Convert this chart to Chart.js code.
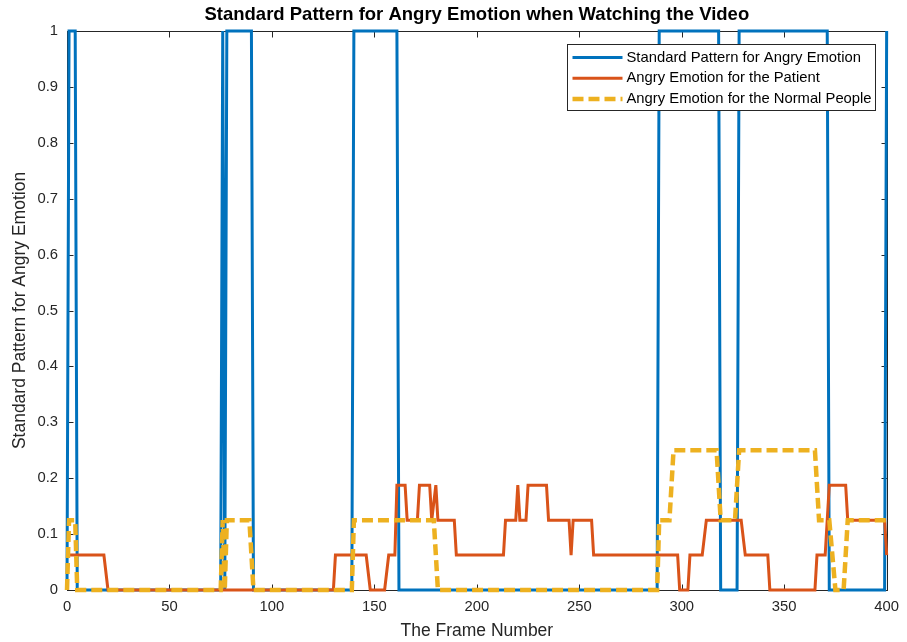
<!DOCTYPE html>
<html>
<head>
<meta charset="utf-8">
<title>Standard Pattern for Angry Emotion</title>
<script src="https://cdn.jsdelivr.net/npm/chart.js@4.4.1/dist/chart.umd.min.js"></script>
<style>
  html, body { margin: 0; padding: 0; background: #fff; }
  canvas { display: block; }
</style>
</head>
<body>
<canvas id="emotionChart" width="907" height="642"></canvas>
<script>
// Each curve is stored as its breakpoints (frame, value); straight lines join them.
const standardFrames = [0, 1, 4, 5, 75, 76, 77, 78, 90, 91, 139, 140, 161, 162, 288, 289, 318, 319, 327, 328, 371, 372, 399, 400];
const standardValues = [0, 1, 1, 0, 0, 1, 0, 1, 1, 0, 0, 1, 1, 0, 0, 1, 1, 0, 0, 1, 1, 0, 0, 1];

const patientFrames = [0, 18, 20, 130, 131, 146, 148, 155, 157, 160, 161, 165, 166, 171, 172, 177, 178, 180, 181, 189, 190,
  213, 214, 219, 220, 221, 224, 225, 234, 235, 245, 246, 247, 256, 257, 298, 299, 303, 304, 310, 312, 329, 331, 342, 343,
  365, 366, 370, 372, 380, 381, 399, 400];
const patientValues = [0.0625, 0.0625, 0, 0, 0.0625, 0.0625, 0, 0, 0.0625, 0.0625, 0.1875, 0.1875, 0.125, 0.125, 0.1875, 0.1875, 0.125, 0.1875, 0.125, 0.125, 0.0625,
  0.0625, 0.125, 0.125, 0.1875, 0.125, 0.125, 0.1875, 0.1875, 0.125, 0.125, 0.0625, 0.125, 0.125, 0.0625, 0.0625, 0, 0, 0.0625, 0.0625, 0.125, 0.125, 0.0625, 0.0625, 0,
  0, 0.0625, 0.0625, 0.1875, 0.1875, 0.125, 0.125, 0.0625];

const normalFrames = [0, 1, 4, 5, 75, 76, 77, 78, 89, 91, 139, 140, 179, 181, 288, 289, 294, 296, 317, 319, 326, 328, 365, 367, 372, 375, 379, 381, 400];
const normalValues = [0, 0.125, 0.125, 0, 0, 0.125, 0, 0.125, 0.125, 0, 0, 0.125, 0.125, 0, 0, 0.125, 0.125, 0.25, 0.25, 0.125, 0.125, 0.25, 0.25, 0.125, 0.125, 0, 0, 0.125, 0.125];

const seriesLabels = ['Standard Pattern for Angry Emotion', 'Angry Emotion for the Patient', 'Angry Emotion for the Normal People'];
const seriesColors = ['#0072BD', '#D95319', '#EDB120'];

const xTicks = [0, 50, 100, 150, 200, 250, 300, 350, 400];
const yTicks = [0, 0.1, 0.2, 0.3, 0.4, 0.5, 0.6, 0.7, 0.8, 0.9, 1];
const yTickLabels = ['0', '0.1', '0.2', '0.3', '0.4', '0.5', '0.6', '0.7', '0.8', '0.9', '1'];

const FONT = '"Liberation Sans", Arial, sans-serif';
const AXIS_COLOR = '#262626';
const TICK_LEN = 6;

function toPoints(frames, values) {
  return frames.map((f, i) => ({ x: f, y: values[i] }));
}

// box around the plot with inward ticks on all four sides
const axesBox = {
  id: 'axesBox',
  beforeDatasetsDraw(chart) {
    const { ctx, chartArea: a, scales: { x, y } } = chart;
    ctx.save();
    ctx.strokeStyle = AXIS_COLOR;
    ctx.lineWidth = 1;
    const l = Math.round(a.left) + 0.5, r = Math.round(a.right) + 0.5;
    const t = Math.round(a.top) + 0.5, b = Math.round(a.bottom) + 0.5;
    ctx.strokeRect(l, t, r - l, b - t);
    ctx.beginPath();
    xTicks.forEach(v => {
      const px = Math.round(x.getPixelForValue(v)) + 0.5;
      ctx.moveTo(px, b); ctx.lineTo(px, b - TICK_LEN);
      ctx.moveTo(px, t); ctx.lineTo(px, t + TICK_LEN);
    });
    yTicks.forEach(v => {
      const py = Math.round(y.getPixelForValue(v)) + 0.5;
      ctx.moveTo(l, py); ctx.lineTo(l + TICK_LEN, py);
      ctx.moveTo(r, py); ctx.lineTo(r - TICK_LEN, py);
    });
    ctx.stroke();
    ctx.restore();
  }
};

// legend in a boxed panel at the upper right of the plot
const boxLegend = {
  id: 'boxLegend',
  afterDatasetsDraw(chart) {
    const { ctx, chartArea: a } = chart;
    const w = 308, h = 66;
    const left = Math.round(a.right) - 12 - w + 0.5;
    const top = Math.round(a.top) + 13 + 0.5;
    ctx.save();
    ctx.fillStyle = '#fff';
    ctx.fillRect(left, top, w, h);
    ctx.strokeStyle = AXIS_COLOR;
    ctx.lineWidth = 1;
    ctx.strokeRect(left, top, w, h);
    ctx.font = '14.8px ' + FONT;
    ctx.textBaseline = 'middle';
    ctx.fillStyle = '#000';
    chart.data.datasets.forEach((ds, i) => {
      const cy = top + 13 + i * 20.7;
      ctx.save();
      ctx.strokeStyle = ds.borderColor;
      ctx.lineWidth = ds.borderWidth;
      ctx.setLineDash(ds.borderDash || []);
      ctx.beginPath();
      ctx.moveTo(left + 5, cy);
      ctx.lineTo(left + 55, cy);
      ctx.stroke();
      ctx.restore();
      ctx.fillText(ds.label, left + 59, cy);
    });
    ctx.restore();
  }
};

new Chart(document.getElementById('emotionChart'), {
  type: 'line',
  data: {
    datasets: [
      { label: seriesLabels[0], data: toPoints(standardFrames, standardValues), borderColor: seriesColors[0], borderWidth: 3, order: 3 },
      { label: seriesLabels[1], data: toPoints(patientFrames, patientValues), borderColor: seriesColors[1], borderWidth: 3, order: 2 },
      { label: seriesLabels[2], data: toPoints(normalFrames, normalValues), borderColor: seriesColors[2], borderWidth: 4.5, borderDash: [11, 5], order: 1 }
    ]
  },
  options: {
    responsive: false,
    animation: false,
    clip: false,
    elements: {
      point: { radius: 0 },
      line: { tension: 0, fill: false, borderCapStyle: 'butt' }
    },
    layout: { padding: { left: 0, right: 18, top: 0, bottom: 0 } },
    plugins: {
      legend: { display: false },
      tooltip: { enabled: false },
      title: {
        display: true,
        fullSize: false,
        text: 'Standard Pattern for Angry Emotion when Watching the Video',
        color: '#000',
        font: { family: FONT, size: 18.5, weight: 'bold', lineHeight: 1.2 },
        padding: { top: 4, bottom: 4.8 }
      }
    },
    scales: {
      x: {
        type: 'linear',
        min: 0,
        max: 400,
        grid: { display: false, drawTicks: false },
        border: { display: false },
        afterBuildTicks: s => { s.ticks = xTicks.map(v => ({ value: v })); },
        afterFit: s => { s.height = 52; },
        ticks: {
          color: AXIS_COLOR,
          font: { family: FONT, size: 14.8 },
          padding: 8,
          maxRotation: 0,
          autoSkip: false
        },
        title: {
          display: true,
          text: 'The Frame Number',
          color: AXIS_COLOR,
          font: { family: FONT, size: 17.5, lineHeight: 1.2 },
          padding: { top: 0, bottom: 0 }
        }
      },
      y: {
        type: 'linear',
        min: 0,
        max: 1,
        grid: { display: false, drawTicks: false },
        border: { display: false },
        afterBuildTicks: s => { s.ticks = yTicks.map(v => ({ value: v })); },
        afterFit: s => { s.width = 67; },
        ticks: {
          color: AXIS_COLOR,
          font: { family: FONT, size: 14.8 },
          padding: 9,
          autoSkip: false,
          callback: (v, i) => yTickLabels[i]
        },
        title: {
          display: true,
          text: 'Standard Pattern for Angry Emotion',
          color: AXIS_COLOR,
          font: { family: FONT, size: 17.5, lineHeight: 1.2 },
          padding: { top: 9.5, bottom: 0 }
        }
      }
    }
  },
  plugins: [axesBox, boxLegend]
});
</script>
</body>
</html>
